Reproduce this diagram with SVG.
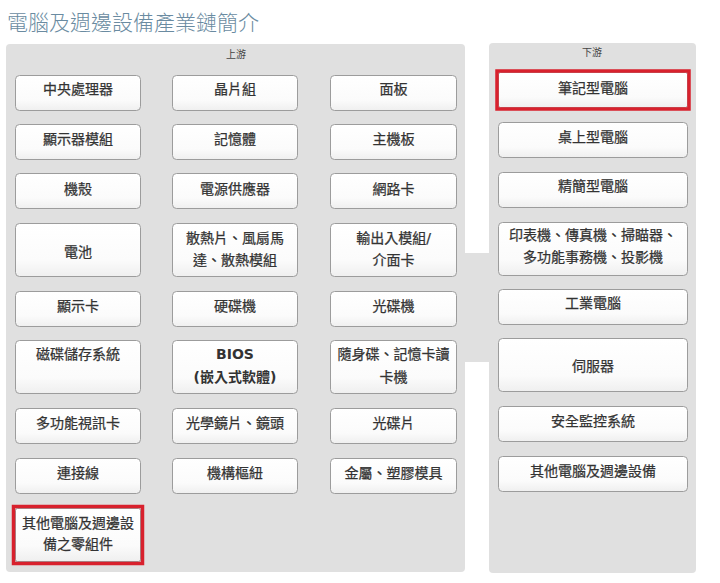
<svg xmlns="http://www.w3.org/2000/svg" width="720" height="583" viewBox="0 0 720 583">
<defs>
<linearGradient id="bg" x1="0" y1="0" x2="0" y2="1">
<stop offset="0" stop-color="#ffffff"/>
<stop offset="0.7" stop-color="#fbfbfb"/>
<stop offset="1" stop-color="#efefef"/>
</linearGradient>
<style>
.panel{fill:#e0e0e0;}
.box{fill:url(#bg);stroke:#9c9c9c;stroke-width:1;}
.hl{fill:none;stroke:#d8212d;stroke-width:3.5;}
.t{font-family:"DejaVu Sans","Noto Sans CJK TC",sans-serif;font-size:14px;fill:#333333;stroke:#333333;stroke-width:0.25;text-anchor:middle;}
.b{font-weight:bold;stroke-width:0;}
.lbl{font-family:"Noto Sans CJK TC",sans-serif;font-size:10px;fill:#444;text-anchor:middle;}
.title{font-family:"Noto Sans CJK TC",sans-serif;font-size:21px;font-weight:300;fill:#6a8ba1;}
.conn{fill:#e0e0e0;}
</style>
</defs>
<rect width="720" height="583" fill="#ffffff"/>
<text class="title" x="7" y="30">電腦及週邊設備產業鏈簡介</text>

<g id="upstream-panel">
<rect class="panel" x="6" y="44" width="459" height="528" rx="4"/>
<text class="lbl" x="236" y="58">上游</text>
</g>
<g id="downstream-panel">
<rect class="panel" x="489" y="43" width="207" height="530" rx="4"/>
<text class="lbl" x="592" y="56">下游</text>
</g>

<g id="connectors">
<rect class="conn" x="464" y="253" width="26" height="109"/>
</g>

<g id="u-cpu"><rect class="box" x="15.5" y="75.5" width="125" height="35" rx="4"/><text class="t" x="78" y="94">中央處理器</text></g>
<g id="u-chipset"><rect class="box" x="172.5" y="75.5" width="125" height="35" rx="4"/><text class="t" x="235" y="94">晶片組</text></g>
<g id="u-panel"><rect class="box" x="330.5" y="75.5" width="126" height="35" rx="4"/><text class="t" x="393.5" y="94">面板</text></g>

<g id="u-display-module"><rect class="box" x="15.5" y="124.5" width="125" height="35" rx="4"/><text class="t" x="78" y="144">顯示器模組</text></g>
<g id="u-memory"><rect class="box" x="172.5" y="124.5" width="125" height="35" rx="4"/><text class="t" x="235" y="144">記憶體</text></g>
<g id="u-motherboard"><rect class="box" x="330.5" y="124.5" width="126" height="35" rx="4"/><text class="t" x="393.5" y="144">主機板</text></g>

<g id="u-case"><rect class="box" x="15.5" y="173.5" width="125" height="35" rx="4"/><text class="t" x="78" y="194">機殼</text></g>
<g id="u-psu"><rect class="box" x="172.5" y="173.5" width="125" height="35" rx="4"/><text class="t" x="235" y="194">電源供應器</text></g>
<g id="u-nic"><rect class="box" x="330.5" y="173.5" width="126" height="35" rx="4"/><text class="t" x="393.5" y="194">網路卡</text></g>

<g id="u-battery"><rect class="box" x="15.5" y="223.5" width="125" height="53" rx="4"/><text class="t" x="78" y="257">電池</text></g>
<g id="u-cooling"><rect class="box" x="172.5" y="223.5" width="125" height="53" rx="4"/><text class="t" x="235" y="243">散熱片、風扇馬</text><text class="t" x="235" y="265">達、散熱模組</text></g>
<g id="u-io"><rect class="box" x="330.5" y="223.5" width="126" height="53" rx="4"/><text class="t" x="393.5" y="243">輸出入模組/</text><text class="t" x="393.5" y="265">介面卡</text></g>

<g id="u-gpu"><rect class="box" x="15.5" y="291.5" width="125" height="35" rx="4"/><text class="t" x="78" y="311">顯示卡</text></g>
<g id="u-hdd"><rect class="box" x="172.5" y="291.5" width="125" height="35" rx="4"/><text class="t" x="235" y="311">硬碟機</text></g>
<g id="u-odd"><rect class="box" x="330.5" y="291.5" width="126" height="35" rx="4"/><text class="t" x="393.5" y="311">光碟機</text></g>

<g id="u-storage"><rect class="box" x="15.5" y="340.5" width="125" height="53" rx="4"/><text class="t" x="78" y="359">磁碟儲存系統</text></g>
<g id="u-bios"><rect class="box" x="172.5" y="340.5" width="125" height="53" rx="4"/><text class="t b" x="235" y="359">BIOS</text><text class="t b" x="235" y="382">(嵌入式軟體)</text></g>
<g id="u-flash"><rect class="box" x="330.5" y="340.5" width="126" height="53" rx="4"/><text class="t" x="393.5" y="359">隨身碟、記憶卡讀</text><text class="t" x="393.5" y="382">卡機</text></g>

<g id="u-video-card"><rect class="box" x="15.5" y="408.5" width="125" height="35" rx="4"/><text class="t" x="78" y="428">多功能視訊卡</text></g>
<g id="u-lens"><rect class="box" x="172.5" y="408.5" width="125" height="35" rx="4"/><text class="t" x="235" y="428">光學鏡片、鏡頭</text></g>
<g id="u-disc"><rect class="box" x="330.5" y="408.5" width="126" height="35" rx="4"/><text class="t" x="393.5" y="428">光碟片</text></g>

<g id="u-cable"><rect class="box" x="15.5" y="458.5" width="125" height="35" rx="4"/><text class="t" x="78" y="478">連接線</text></g>
<g id="u-hinge"><rect class="box" x="172.5" y="458.5" width="125" height="35" rx="4"/><text class="t" x="235" y="478">機構樞紐</text></g>
<g id="u-mold"><rect class="box" x="330.5" y="458.5" width="126" height="35" rx="4"/><text class="t" x="393.5" y="478">金屬、塑膠模具</text></g>

<g id="u-other-parts"><rect class="box" x="15.5" y="508.5" width="125" height="53" rx="2"/><rect class="hl" x="13.5" y="506.5" width="129" height="57"/><text class="t" x="78" y="528">其他電腦及週邊設</text><text class="t" x="78" y="549">備之零組件</text></g>

<g id="d-notebook"><rect class="box" x="498.5" y="72.5" width="189" height="35" rx="2"/><rect class="hl" x="497" y="71" width="192" height="38"/><text class="t" x="593" y="93">筆記型電腦</text></g>
<g id="d-desktop"><rect class="box" x="498.5" y="122.5" width="189" height="35" rx="4"/><text class="t" x="593" y="142">桌上型電腦</text></g>
<g id="d-thin"><rect class="box" x="498.5" y="172.5" width="189" height="35" rx="4"/><text class="t" x="593" y="191">精簡型電腦</text></g>
<g id="d-printer"><rect class="box" x="498.5" y="222.5" width="189" height="53" rx="4"/><text class="t" x="593" y="240">印表機、傳真機、掃瞄器、</text><text class="t" x="593" y="262">多功能事務機、投影機</text></g>
<g id="d-industrial"><rect class="box" x="498.5" y="289.5" width="189" height="35" rx="4"/><text class="t" x="593" y="308">工業電腦</text></g>
<g id="d-server"><rect class="box" x="498.5" y="338.5" width="189" height="53" rx="4"/><text class="t" x="593" y="371">伺服器</text></g>
<g id="d-security"><rect class="box" x="498.5" y="406.5" width="189" height="35" rx="4"/><text class="t" x="593" y="426">安全監控系統</text></g>
<g id="d-other"><rect class="box" x="498.5" y="456.5" width="189" height="35" rx="4"/><text class="t" x="593" y="476">其他電腦及週邊設備</text></g>
</svg>
